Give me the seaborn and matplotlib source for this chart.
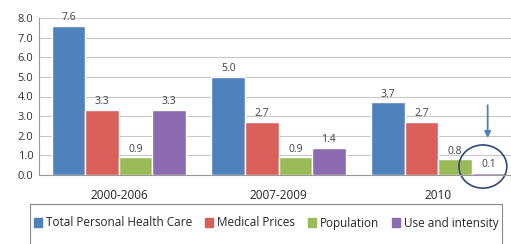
import matplotlib
matplotlib.use("Agg")
import matplotlib.pyplot as plt
from matplotlib.patches import Ellipse, Rectangle
import seaborn as sns
import pandas as pd

periods = ["2000-2006", "2007-2009", "2010"]
series = ["Total Personal Health Care", "Medical Prices", "Population", "Use and intensity"]
total_care = [7.6, 5.0, 3.7]
medical_prices = [3.3, 2.7, 2.7]
population = [0.9, 0.9, 0.8]
use_intensity = [3.3, 1.4, 0.1]
colors = ["#4F81BD", "#D9605A", "#9BBB59", "#8C6BB1"]

rows = []
for name, vals in zip(series, [total_care, medical_prices, population, use_intensity]):
    for p, v in zip(periods, vals):
        rows.append({"period": p, "series": name, "value": v})
df = pd.DataFrame(rows)

sns.set_style("white")
plt.rcParams["font.family"] = ["Open Sans", "DejaVu Sans"]

W, H = 511, 244
fig = plt.figure(figsize=(W / 100, H / 100), dpi=100)
ax = fig.add_axes([39 / W, 1 - 175 / H, (518 - 39) / W, (175 - 18) / H])

sns.barplot(data=df, x="period", y="value", hue="series", palette=colors,
            width=0.84, gap=0, saturation=1, ax=ax, legend=False)

for c in ax.containers:
    ax.bar_label(c, labels=[f"{v:.1f}" for v in c.datavalues], fontsize=7.5,
                 color="#404040", padding=2)

ax.set_ylim(0, 8)
ax.set_yticks([0, 1, 2, 3, 4, 5, 6, 7, 8])
ax.set_yticklabels([f"{v:.1f}" for v in range(9)])
ax.set_xlim(-0.5, 2.5)
ax.yaxis.grid(True, color="#c8c8c8", linewidth=0.8)
ax.set_axisbelow(True)
ax.set_xlabel("")
ax.set_ylabel("")
for s in ["top", "right"]:
    ax.spines[s].set_visible(False)
ax.spines["left"].set_color("#999999")
ax.spines["bottom"].set_color("#999999")
ax.tick_params(axis="y", labelsize=8, colors="#333333", length=0, pad=4)
ax.tick_params(axis="x", labelsize=8.5, colors="#222222", length=0, pad=10)

# circle and arrow around the last bar
ax.add_patch(Ellipse((2.28, 0.43), 0.3, 2.2, fill=False, edgecolor="#2E4A7A",
                     linewidth=1.2, clip_on=False))
ax.annotate("", xy=(2.31, 1.75), xytext=(2.31, 3.7),
            arrowprops=dict(arrowstyle="-|>", color="#4A7EBB", lw=1.3,
                            mutation_scale=9))

# legend box (frame drawn separately, runs off the bottom edge)
fig.add_artist(Rectangle((30 / W, -0.05), 472 / W, 1 - 204 / H + 0.05,
                         transform=fig.transFigure, fill=False,
                         edgecolor="#888888", linewidth=0.8))
handles = [plt.Rectangle((0, 0), 1, 1, color=c) for c in colors]
fig.legend(handles, series, loc="center left",
           bbox_to_anchor=(34 / W, 1 - 223 / H), ncol=4, fontsize=8.5,
           frameon=False, handlelength=0.7, handleheight=0.7, handletextpad=0.3,
           columnspacing=1.1, borderpad=0, borderaxespad=0)

fig.savefig("out.png", dpi=100)
